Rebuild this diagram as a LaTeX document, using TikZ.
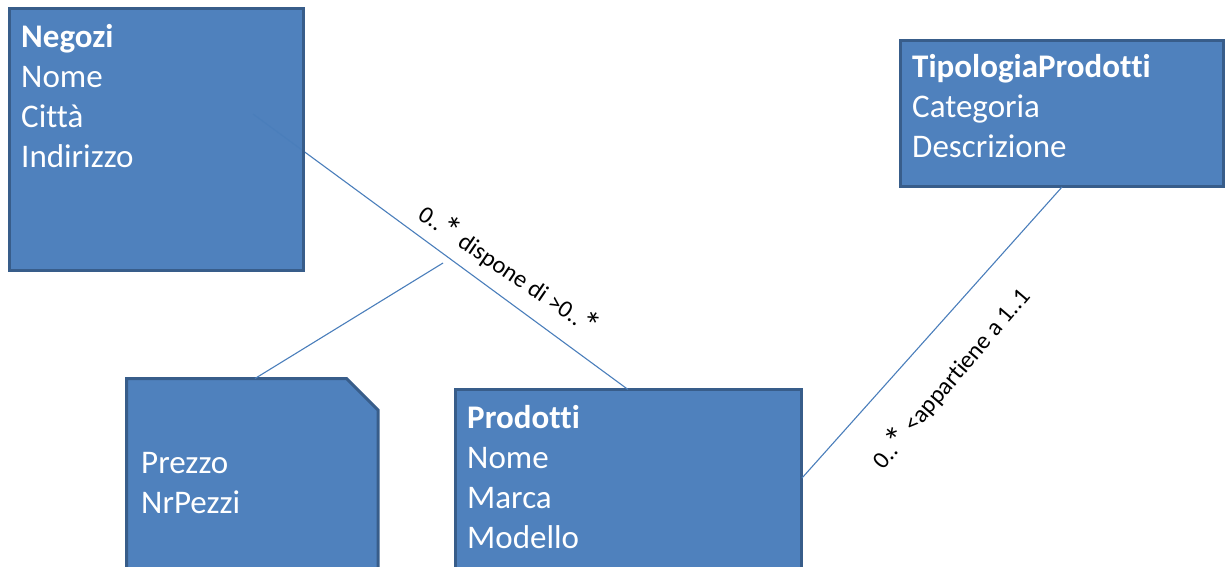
\documentclass[tikz,border=0pt]{standalone}
\usepackage{fontspec}
\setmainfont{Carlito}[Ligatures={NoCommon}, Contextuals={NoAlternate}]
\frenchspacing
\definecolor{boxfill}{HTML}{4F81BD}
\definecolor{boxline}{HTML}{385D8A}
\definecolor{linkcol}{HTML}{4A7EBB}
% multiplicity star, drawn a little larger
\newcommand{\mstar}{\raisebox{-0.12em}{\scalebox{1.5}{*}}}
\tikzset{
  entity/.style={draw=boxline, fill=boxfill, line width=3pt, rectangle,
    inner sep=0pt, outer sep=0pt, anchor=north west},
  attrs/.style={text=white, font=\fontsize{33}{40}\selectfont, align=left,
    anchor=base west, inner sep=0pt},
  link/.style={draw=linkcol, line width=1.1pt},
  role/.style={font=\fontsize{24.4}{29}\selectfont, inner sep=0pt, anchor=center}
}
\begin{document}
\begin{tikzpicture}[x=1pt, y=-1pt]
  \useasboundingbox (0,0) rectangle (1225,566);
  \clip (0,0) rectangle (1225,566);

  % entity boxes
  \node[entity, minimum width=294pt, minimum height=262pt] (negozi) at (9.5,8.5) {};
  \node[entity, minimum width=346.5pt, minimum height=220pt] (prodotti) at (455,389.5) {};
  \node[entity, minimum width=323pt, minimum height=146.5pt] (tipologia) at (900,40) {};

  % association class: a box with its upper right corner cut off
  \node[rectangle, inner sep=0pt, outer sep=0pt, anchor=north west,
        minimum width=251.5pt, minimum height=220pt] (dettaglio) at (126.5,378.5) {};
  \draw[draw=boxline, fill=boxfill, line width=3pt, line join=miter]
    (dettaglio.south west) -- (dettaglio.north west)
    -- ([xshift=-31.5pt]dettaglio.north east)
    -- ([yshift=-31.5pt]dettaglio.north east)
    -- (dettaglio.south east) -- cycle;

  % connector end points
  \coordinate (dispA) at (253,114);
  \coordinate (dispB) at (628,389.5);
  \coordinate (assocA) at (443,263);
  \coordinate (assocB) at (255,378.5);
  \coordinate (appA) at (802,478);
  \coordinate (appB) at (1062,187);

  % associations
  \draw[link] (dispA) -- (dispB);
  \draw[link] (assocA) -- (assocB);
  \draw[link] (appA) -- (appB);

  % box border over the connector end
  \draw[draw=boxline, line width=3pt] (negozi.north west) rectangle (negozi.south east);

  % attribute lists (anchored at the baseline of the last line)
  \node[attrs] (negoziTxt) at (21,167) {\textbf{Negozi}\\Nome\\Città\\Indirizzo};
  \node[attrs] (tipologiaTxt) at (912,157) {\textbf{TipologiaProdotti}\\Categoria\\Descrizione};
  \node[attrs] (prodottiTxt) at (467,548) {\textbf{Prodotti}\\Nome\\Marca\\Modello};
  \node[attrs] (dettaglioTxt) at (141,513) {Prezzo\\NrPezzi};

  % association labels
  \node[role, rotate=-34.3] (dispLbl) at (509.4,269.7) {0..\mstar\ dispone di >0..\mstar};
  \node[role, rotate=49.5] (appLbl) at (950,377.4) {0..\mstar\ <appartiene a 1..1};
\end{tikzpicture}
\end{document}
